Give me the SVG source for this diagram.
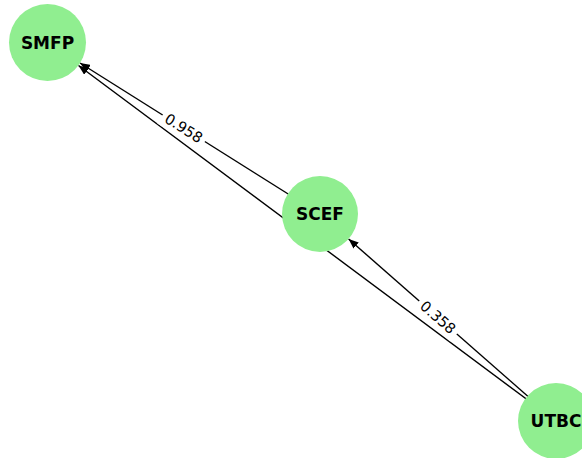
<svg xmlns="http://www.w3.org/2000/svg" width="582" height="458" viewBox="0 0 582 458">
<style>
.edge{stroke:#000;stroke-width:1.4;fill:none;marker-end:url(#arr)}
.node{fill:#90ee90}
.nl{font-family:"DejaVu Sans",sans-serif;font-weight:bold;font-size:17px;text-anchor:middle;dominant-baseline:central;fill:#000}
.el{font-family:"DejaVu Sans",sans-serif;font-size:14.5px;text-anchor:middle;dominant-baseline:central;fill:#000}
.lb{fill:#fff}
</style>
<defs>
<marker id="arr" viewBox="0 0 10 8" refX="10" refY="4" markerWidth="10" markerHeight="8" markerUnits="userSpaceOnUse" orient="auto">
<path d="M0,0 L10,4 L0,8 Z" fill="#000"/>
</marker>
</defs>
<rect width="582" height="458" fill="#fff"/>
<g id="connectors">
<line class="edge" x1="320" y1="214" x2="80" y2="63"/>
<line class="edge" x1="556" y1="421" x2="78.5" y2="65.5"/>
<line class="edge" x1="556" y1="421" x2="348.6" y2="239"/>
<g transform="translate(183.75,128.25) rotate(32.2)"><rect class="lb" x="-25" y="-10" width="50" height="20"/><text class="el" x="0" y="0">0.958</text></g>
<g transform="translate(438,317.5) rotate(41.3)"><rect class="lb" x="-25" y="-10" width="50" height="20"/><text class="el" x="0" y="0">0.358</text></g>
</g>
<g id="SMFP"><circle class="node" cx="47.5" cy="42.5" r="38.5"/><text class="nl" x="47.5" y="42.5">SMFP</text></g>
<g id="SCEF"><circle class="node" cx="320" cy="214" r="38"/><text class="nl" x="320" y="214">SCEF</text></g>
<g id="UTBC"><circle class="node" cx="556" cy="421" r="38"/><text class="nl" x="556" y="421">UTBC</text></g>
</svg>
